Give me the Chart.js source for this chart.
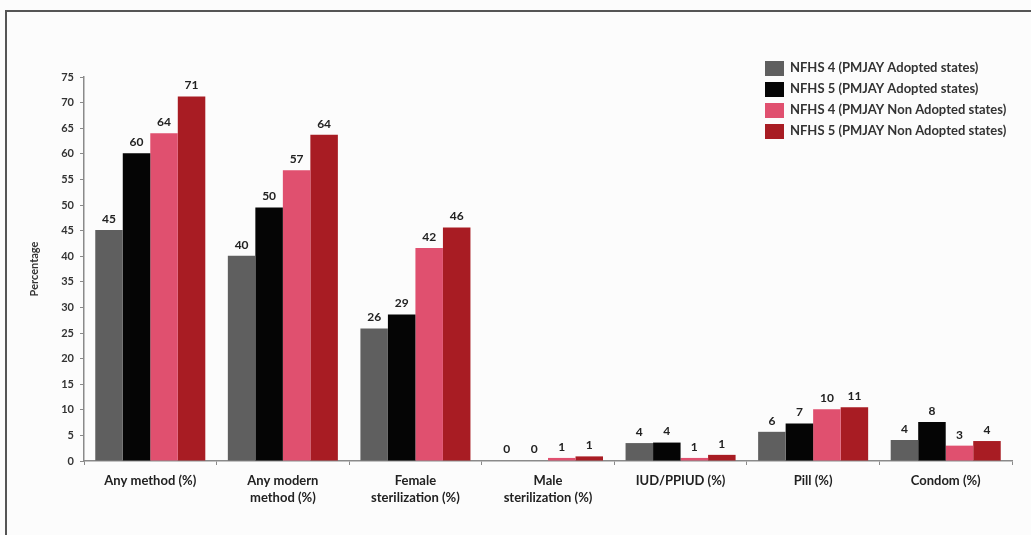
<!DOCTYPE html>
<html>
<head>
<meta charset="utf-8">
<script src="https://cdn.jsdelivr.net/npm/chart.js@4.4.1/dist/chart.umd.min.js"></script>
<style>
  html, body { margin: 0; padding: 0; background: #fcfcfc; }
  body { width: 1031px; height: 535px; position: relative; overflow: hidden; }
  #frame { position: absolute; left: 5px; top: 10px; right: -5px; bottom: -5px;
           border-top: 2px solid #555; border-left: 2px solid #555; }
  #wrap { position: absolute; left: 0; top: 0; width: 1031px; height: 535px; }
</style>
</head>
<body>
<div id="frame"></div>
<div id="wrap"><canvas id="contraChart" width="1031" height="535"></canvas></div>
<script>
// Categories and series
const categories = [
    ["Any method (%)"],
    ["Any modern", "method (%)"],
    ["Female", "sterilization (%)"],
    ["Male", "sterilization (%)"],
    ["IUD/PPIUD (%)"],
    ["Pill (%)"],
    ["Condom (%)"]
];
const seriesNames = [
    "NFHS 4 (PMJAY Adopted states)",
    "NFHS 5 (PMJAY Adopted states)",
    "NFHS 4 (PMJAY Non Adopted states)",
    "NFHS 5 (PMJAY Non Adopted states)"
];
const nfhs4Adopted    = [45.1, 40.1, 25.9, 0.1, 3.5, 5.7, 4.1];
const nfhs5Adopted    = [60.1, 49.5, 28.6, 0.1, 3.6, 7.3, 7.6];
const nfhs4NonAdopted = [64.0, 56.8, 41.6, 0.6, 0.6, 10.1, 3.0];
const nfhs5NonAdopted = [71.2, 63.7, 45.6, 0.9, 1.2, 10.5, 3.9];
const yTicks = [0, 5, 10, 15, 20, 25, 30, 35, 40, 45, 50, 55, 60, 65, 70, 75];

const colors = ["#5f5f5f", "#050505", "#e0506f", "#a81c23"];
const FONT = "Lato, 'Open Sans', sans-serif";

const ctx = document.getElementById('contraChart').getContext('2d');

// value labels above each bar
const valueLabels = {
    id: 'valueLabels',
    afterDatasetsDraw(chart) {
        const c = chart.ctx;
        c.save();
        c.font = "bold 12px " + FONT;
        c.fillStyle = "#222";
        c.textAlign = "center";
        c.textBaseline = "bottom";
        chart.data.datasets.forEach((ds, i) => {
            chart.getDatasetMeta(i).data.forEach((bar, j) => {
                c.fillText(Math.round(ds.data[j]), bar.x, bar.y - 5);
            });
        });
        c.restore();
    }
};

// legend box in the top right corner
const cornerLegend = {
    id: 'cornerLegend',
    afterDraw(chart) {
        const c = chart.ctx;
        c.save();
        c.font = "bold 13px " + FONT;
        c.textBaseline = "middle";
        chart.data.datasets.forEach((ds, i) => {
            const y = 68 + i * 21;
            c.fillStyle = ds.backgroundColor;
            c.fillRect(765, y - 7, 19, 15);
            c.fillStyle = "#333";
            c.fillText(ds.label, 790, y);
        });
        c.restore();
    }
};

const seriesData = [nfhs4Adopted, nfhs5Adopted, nfhs4NonAdopted, nfhs5NonAdopted];

new Chart(ctx, {
    type: 'bar',
    data: {
        labels: categories,
        datasets: seriesNames.map((name, i) => ({
            label: name,
            data: seriesData[i],
            backgroundColor: colors[i],
            borderWidth: 0,
            categoryPercentage: 0.83,
            barPercentage: 1.0
        }))
    },
    options: {
        responsive: false,
        animation: false,
        layout: { padding: { top: 77, right: 19, bottom: 0, left: 0 } },
        plugins: {
            legend: { display: false },
            tooltip: { enabled: false }
        },
        scales: {
            x: {
                afterFit: (s) => { s.height = 74; },
                border: { display: true, color: "#8a8a8a", width: 1.5 },
                grid: { display: true, drawOnChartArea: false, tickLength: 4, color: "#8a8a8a" },
                ticks: {
                    color: "#222",
                    font: { family: FONT, size: 13, weight: "bold", lineHeight: 1.25 },
                    padding: 8,
                    maxRotation: 0,
                    autoSkip: false
                }
            },
            y: {
                min: 0,
                max: 75,
                afterFit: (s) => { s.width = 84; },
                afterBuildTicks: (s) => { s.ticks = yTicks.map(v => ({ value: v })); },
                border: { display: true, color: "#8a8a8a", width: 1.5 },
                grid: { display: true, drawOnChartArea: false, tickLength: 4, color: "#8a8a8a" },
                ticks: {
                    color: "#333",
                    font: { family: FONT, size: 11, weight: "bold" },
                    padding: 6
                },
                title: {
                    display: true,
                    text: "Percentage",
                    color: "#333",
                    font: { family: FONT, size: 11, weight: "bold" },
                    padding: { top: 28, bottom: 0 }
                }
            }
        }
    },
    plugins: [valueLabels, cornerLegend]
});
</script>
</body>
</html>
